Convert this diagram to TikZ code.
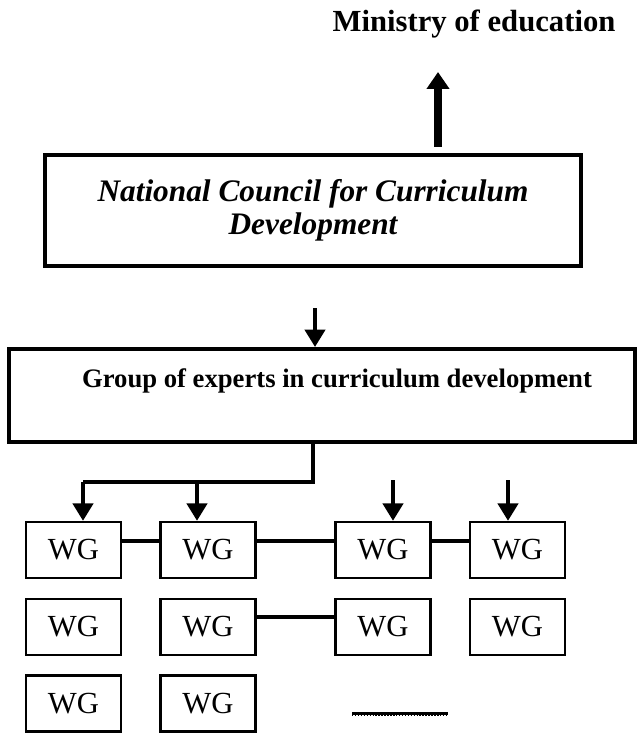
\documentclass[tikz,border=0pt]{standalone}
\usepackage{fontspec}
\setmainfont{Liberation Serif}
\usetikzlibrary{arrows.meta}
\begin{document}
\begin{tikzpicture}[x=0.75pt,y=-0.75pt,
 bigbox/.style={draw,line width=3pt,inner sep=0pt},
 wg/.style={draw,line width=1.8pt,minimum width=71.25pt,minimum height=42pt,inner sep=0pt,font=\fontsize{23}{26}\selectfont},
 link/.style={line width=2.3pt},
 downarrow/.style={line width=3pt,-{Triangle[width=15pt,length=13pt]}},
 uparrow/.style={line width=6pt,-{Triangle[width=16.5pt,length=12.75pt]}},
]
\useasboundingbox (0,0) rectangle (639,734);

\node[font=\bfseries\fontsize{23}{26}\selectfont, anchor=base, inner sep=0pt] (ministry) at (474,32) {Ministry of education};

\node[bigbox, minimum width=402pt, minimum height=83.25pt, align=center,
      font=\bfseries\itshape\fontsize{23.5}{25}\selectfont] (ncc) at (313,210.5)
      {National Council for Curriculum\\Development};

\node[bigbox, minimum width=469.5pt, minimum height=69.75pt] (experts) at (322,395.5) {};
\node[font=\bfseries\fontsize{20}{24}\selectfont, anchor=base, inner sep=0pt] (expertstext) at (337,387)
      {Group of experts in curriculum development};

% WG grid
\node[wg] (wg11) at (73.5,550) {WG};
\node[wg] (wg12) at (208,550) {WG};
\node[wg] (wg13) at (383,550) {WG};
\node[wg] (wg14) at (517.5,550) {WG};
\node[wg] (wg21) at (73.5,627) {WG};
\node[wg] (wg22) at (208,627) {WG};
\node[wg] (wg23) at (383,627) {WG};
\node[wg] (wg24) at (517.5,627) {WG};
\node[wg] (wg31) at (73.5,703.5) {WG};
\node[wg] (wg32) at (208,703.5) {WG};

% up arrow
\coordinate (upstart) at (438,147);
\coordinate (uptip) at (438,72);
\draw[uparrow] (upstart) -- (uptip);

% arrow to experts
\coordinate (midstart) at (315,308);
\draw[downarrow] (midstart) -- (experts.north -| midstart);

% tree
\coordinate (split) at (313,482);
\coordinate (j1) at (83,482);
\coordinate (j2) at (197,482);
\coordinate (a3) at (393,480);
\coordinate (a4) at (508,480);
\draw[link] (experts.south -| split) -- (split) -- (j1);
\draw[downarrow] (j1) -- (j1 |- wg11.north);
\draw[downarrow] (j2) -- (j2 |- wg12.north);
\draw[downarrow] (a3) -- (a3 |- wg13.north);
\draw[downarrow] (a4) -- (a4 |- wg14.north);

% links
\draw[link] ([yshift=6.75pt]wg11.east) -- ([yshift=6.75pt]wg12.west);
\draw[link] ([yshift=6.75pt]wg12.east) -- ([yshift=6.75pt]wg13.west);
\draw[link] ([yshift=6.75pt]wg13.east) -- ([yshift=6.75pt]wg14.west);
\draw[link] ([yshift=7.5pt]wg22.east) -- ([yshift=7.5pt]wg23.west);

% dotted line
\coordinate (d1) at (352,713);
\coordinate (d2) at (448,713);
\draw[line width=2.25pt] (d1) -- (d2);
\draw[line width=1.2pt, dash pattern=on 1.1pt off 1.1pt] ([yshift=-1.8pt]d1) -- ([yshift=-1.8pt]d2);
\end{tikzpicture}
\end{document}
